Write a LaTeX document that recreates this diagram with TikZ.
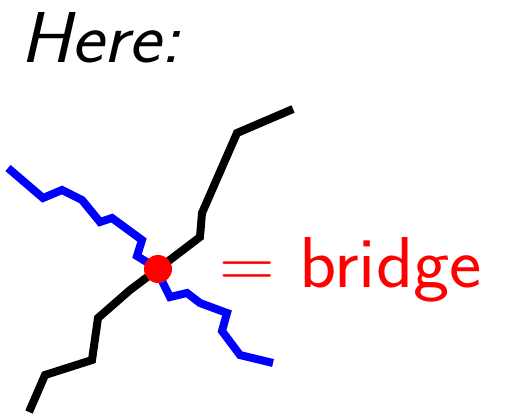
\documentclass[tikz,border=0pt]{standalone}
\usetikzlibrary{calc, positioning}

\begin{document}
\begin{tikzpicture}[x=0.02cm, y=-0.02cm]
\tikzset{
  path/.style={line width=8*0.02cm},
  txt/.style={inner sep=0pt, anchor=base west, xscale=1.07, font=\sffamily\fontsize{41}{49}\selectfont}
}
\useasboundingbox (0,0) rectangle (513,417);

\node[txt] (here) at (20,62) {\itshape Here:};

\coordinate (c) at (158,269);

\draw[path, black] (c) -- (200,237) -- (202,213) -- (237,133) -- (293,109);
\draw[path, black] (c) -- (130,290) -- (98,318) -- (92,360) -- (45,375) -- (29,412);

\draw[path, blue] (c) -- (137,256) -- (142,240) -- (112,218) -- (100,222) -- (82,200) -- (62,190) -- (43,198) -- (8,168);
\draw[path, blue] (c) -- (163,283) -- (170,297) -- (187,293) -- (200,303) -- (227,313) -- (222,331) -- (240,355) -- (273,363);

\node[circle, fill=red, minimum size=28*0.02cm, inner sep=0pt] (br) at (c) {};

\node[txt, red] (lbl) at (219,287) {{\rmfamily=} bridge};

\end{tikzpicture}
\end{document}
